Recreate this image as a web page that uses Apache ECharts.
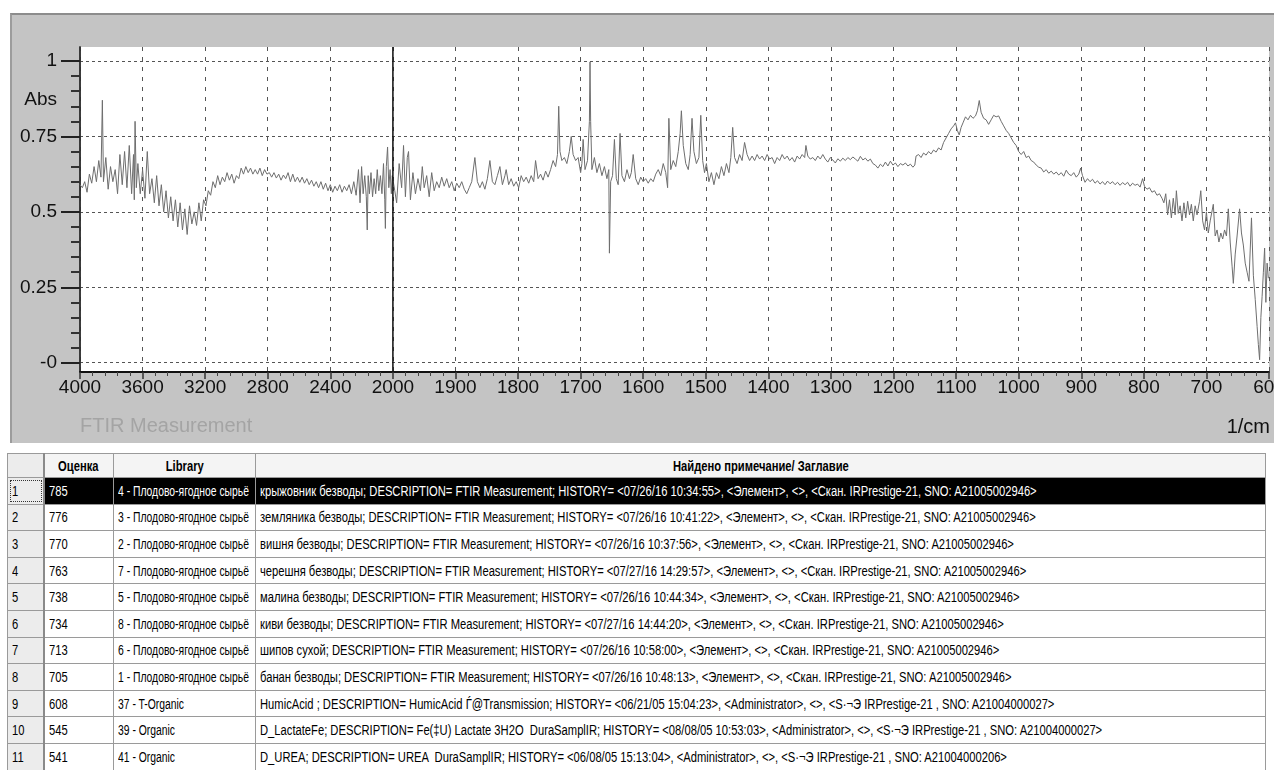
<!DOCTYPE html>
<html><head><meta charset="utf-8">
<script src="https://cdn.jsdelivr.net/npm/echarts@6/dist/echarts.min.js"></script>
<style>
html,body{margin:0;padding:0;background:#fff;width:1274px;height:770px;overflow:hidden;position:relative;}
#panel{position:absolute;left:10px;top:13px;width:1264px;height:430px;background:#c4c4c4;border-top:2px solid #8c8c8c;border-left:2px solid #9c9c9c;box-sizing:border-box;}
#chart{position:absolute;left:0;top:0;width:1300px;height:445px;}
#tbl{position:absolute;left:7px;top:453px;width:1259px;border-collapse:collapse;table-layout:fixed;
 font-family:'Liberation Sans',Arial,sans-serif;font-size:14px;color:#000;}
#tbl th,#tbl td{border:1px solid #9a9a9a;padding:0 4px;white-space:pre;overflow:hidden;text-align:left;}
#tbl th{height:23px;background:#f4f4f4;font-weight:bold;text-align:center;}
#tbl td{height:25.6px;}
#tbl td.idx,#tbl th.idx{background:#ececec;padding-left:4px;border-right:2px solid #8a8a8a;}
#tbl span.n{display:inline-block;transform:scaleX(0.8);transform-origin:0 50%;}
#tbl td.lib span.n{transform:scaleX(0.74);}
#tbl th span.n{transform-origin:50% 50%;}
#tbl tr.sel td.v{background:#000;color:#fff;}
#tbl tr.sel td.idx{outline:1px dotted #333;outline-offset:-3px;}
</style>
</head><body>
<div id="panel"></div>
<div id="chart"></div>
<table id="tbl"></table>
<script>
// ---------- data ----------
const xTickLabels = ['4000','3600','3200','2800','2400','2000','1900','1800','1700','1600','1500','1400','1300','1200','1100','1000','900','800','700','600'];
const yTickLabels = ['-0','0.25','0.5','0.75','1'];
const cursorWavenumber = 2000;

// spectrum: [wavenumber (1/cm), absorbance]
const spectrumHigh = [[4000,0.590],[3985,0.580],[3970,0.600],[3955,0.565],[3940,0.625],[3925,0.595],[3910,0.650],[3895,0.600],[3880,0.670],[3866,0.615],[3857,0.870],[3850,0.600],[3835,0.680],[3820,0.575],[3805,0.650],[3790,0.600],[3775,0.640],[3760,0.560],[3745,0.690],[3730,0.590],[3715,0.700],[3700,0.580],[3685,0.720],[3670,0.560],[3658,0.690],[3653,0.540],[3648,0.800],[3640,0.580],[3630,0.660],[3615,0.560],[3600,0.640],[3585,0.545],[3570,0.700],[3555,0.560],[3540,0.610],[3525,0.530],[3510,0.620],[3495,0.520],[3480,0.590],[3465,0.500],[3450,0.570],[3435,0.480],[3420,0.550],[3405,0.470],[3390,0.540],[3375,0.450],[3360,0.530],[3345,0.440],[3330,0.510],[3315,0.425],[3300,0.520],[3285,0.460],[3270,0.500],[3255,0.455],[3240,0.530],[3225,0.470],[3210,0.540],[3195,0.520],[3180,0.570],[3165,0.555],[3150,0.600],[3135,0.580],[3120,0.620],[3105,0.590],[3090,0.615],[3075,0.600],[3060,0.630],[3045,0.605],[3030,0.625],[3015,0.595],[3000,0.620],[2985,0.610],[2970,0.645],[2955,0.625],[2940,0.650],[2925,0.630],[2910,0.645],[2895,0.625],[2880,0.640],[2865,0.625],[2850,0.645],[2835,0.620],[2820,0.640],[2805,0.625],[2790,0.630],[2775,0.615],[2760,0.630],[2745,0.612],[2730,0.625],[2715,0.605],[2700,0.622],[2685,0.610],[2670,0.630],[2655,0.600],[2640,0.625],[2625,0.600],[2610,0.615],[2595,0.598],[2580,0.615],[2565,0.595],[2550,0.610],[2535,0.590],[2520,0.605],[2505,0.585],[2490,0.600],[2475,0.580],[2460,0.600],[2445,0.575],[2430,0.595],[2415,0.570],[2400,0.590],[2385,0.565],[2370,0.585],[2355,0.570],[2340,0.590],[2325,0.565],[2310,0.585],[2295,0.570],[2280,0.590],[2265,0.560],[2250,0.600],[2235,0.555],[2220,0.640],[2210,0.530],[2200,0.650],[2190,0.560],[2180,0.620],[2170,0.550],[2164,0.440],[2158,0.620],[2150,0.560],[2140,0.630],[2130,0.550],[2120,0.610],[2110,0.560],[2100,0.640],[2090,0.570],[2080,0.620],[2070,0.560],[2060,0.660],[2052,0.540],[2048,0.445],[2042,0.650],[2034,0.715],[2026,0.580],[2018,0.640],[2010,0.560],[2004,0.620]];

const spectrumMid = [[1997,0.57],[1994,0.53],[1990,0.66],[1986,0.58],[1983,0.72],[1980,0.55],[1977,0.68],[1975,0.70],[1972,0.54],[1968,0.63],[1964,0.56],[1960,0.61],[1956,0.57],[1953,0.65],[1950,0.58],[1946,0.62],[1942,0.55],[1938,0.63],[1934,0.57],[1930,0.60],[1926,0.58],[1922,0.615],[1918,0.585],[1914,0.61],[1910,0.58],[1906,0.60],[1902,0.57],[1898,0.595],[1894,0.58],[1890,0.60],[1886,0.575],[1882,0.56],[1878,0.58],[1874,0.60],[1869,0.68],[1865,0.60],[1861,0.58],[1857,0.60],[1853,0.575],[1849,0.61],[1845,0.67],[1841,0.60],[1837,0.59],[1833,0.62],[1829,0.65],[1825,0.59],[1821,0.62],[1819,0.64],[1815,0.59],[1811,0.61],[1807,0.585],[1803,0.60],[1799,0.58],[1795,0.62],[1791,0.60],[1787,0.615],[1783,0.595],[1779,0.62],[1775,0.60],[1772,0.67],[1768,0.61],[1764,0.625],[1760,0.605],[1756,0.635],[1752,0.615],[1748,0.64],[1744,0.67],[1740,0.65],[1737,0.69],[1735,0.85],[1733,0.70],[1730,0.67],[1726,0.68],[1722,0.66],[1718,0.70],[1715,0.75],[1712,0.69],[1708,0.67],[1704,0.68],[1700,0.63],[1698,0.66],[1696,0.74],[1693,0.64],[1689,0.67],[1686,0.80],[1685,0.997],[1684,0.80],[1682,0.64],[1678,0.68],[1674,0.63],[1670,0.66],[1666,0.62],[1662,0.65],[1658,0.61],[1655,0.64],[1654,0.363],[1652,0.60],[1649,0.62],[1646,0.74],[1643,0.61],[1640,0.59],[1637,0.76],[1634,0.62],[1630,0.60],[1626,0.64],[1622,0.61],[1619,0.63],[1616,0.69],[1612,0.61],[1608,0.59],[1604,0.615],[1600,0.60],[1596,0.61],[1592,0.595],[1588,0.61],[1584,0.60],[1580,0.625],[1576,0.64],[1572,0.62],[1568,0.66],[1564,0.63],[1561,0.58],[1559,0.81],[1556,0.64],[1552,0.67],[1548,0.65],[1544,0.70],[1541,0.76],[1539,0.835],[1536,0.72],[1532,0.66],[1528,0.64],[1525,0.69],[1522,0.81],[1519,0.70],[1515,0.66],[1511,0.68],[1508,0.82],[1505,0.67],[1502,0.63],[1499,0.66],[1495,0.60],[1491,0.63],[1487,0.59],[1483,0.63],[1479,0.61],[1475,0.65],[1471,0.62],[1467,0.66],[1463,0.63],[1460,0.68],[1457,0.78],[1454,0.68],[1450,0.66],[1446,0.69],[1442,0.67],[1438,0.73],[1434,0.69],[1430,0.67],[1426,0.685],[1422,0.67],[1418,0.69],[1414,0.675],[1410,0.685],[1406,0.67],[1402,0.69],[1398,0.675],[1394,0.68],[1390,0.66],[1386,0.68],[1382,0.67],[1378,0.69],[1374,0.675],[1370,0.685],[1366,0.67],[1362,0.68],[1358,0.665],[1354,0.685],[1350,0.675],[1346,0.69],[1342,0.68],[1340,0.72],[1337,0.685],[1333,0.675],[1329,0.68],[1325,0.67],[1321,0.685],[1317,0.675],[1313,0.69],[1309,0.675],[1305,0.665],[1301,0.68]];

const spectrumLow = [[1297,0.672],[1293,0.662],[1289,0.676],[1285,0.668],[1281,0.678],[1277,0.67],[1273,0.68],[1269,0.673],[1265,0.682],[1261,0.675],[1257,0.668],[1253,0.684],[1249,0.672],[1245,0.678],[1241,0.668],[1237,0.675],[1233,0.66],[1229,0.655],[1225,0.645],[1221,0.658],[1217,0.65],[1213,0.665],[1209,0.652],[1205,0.668],[1201,0.655],[1197,0.662],[1193,0.65],[1189,0.66],[1185,0.655],[1181,0.662],[1177,0.652],[1173,0.658],[1169,0.648],[1166,0.655],[1164,0.685],[1160,0.69],[1156,0.68],[1152,0.695],[1148,0.688],[1144,0.70],[1140,0.692],[1136,0.705],[1132,0.698],[1128,0.712],[1124,0.705],[1120,0.73],[1116,0.745],[1112,0.76],[1108,0.775],[1104,0.785],[1101,0.795],[1098,0.77],[1095,0.755],[1092,0.78],[1089,0.795],[1085,0.815],[1081,0.805],[1077,0.82],[1073,0.81],[1069,0.818],[1066,0.835],[1063,0.869],[1060,0.83],[1056,0.81],[1052,0.805],[1048,0.79],[1044,0.805],[1040,0.82],[1036,0.815],[1032,0.818],[1028,0.80],[1024,0.785],[1020,0.77],[1016,0.76],[1012,0.745],[1008,0.73],[1004,0.72],[1000,0.70],[996,0.69],[992,0.70],[988,0.68],[984,0.685],[980,0.67],[976,0.665],[972,0.655],[968,0.648],[964,0.645],[960,0.632],[956,0.64],[952,0.628],[948,0.635],[944,0.625],[940,0.632],[936,0.622],[932,0.63],[928,0.618],[924,0.638],[920,0.625],[916,0.62],[912,0.63],[908,0.615],[904,0.625],[901,0.645],[898,0.62],[894,0.598],[890,0.61],[886,0.60],[882,0.608],[878,0.595],[874,0.603],[870,0.592],[866,0.60],[862,0.59],[858,0.602],[854,0.593],[850,0.60],[846,0.59],[842,0.598],[838,0.588],[834,0.597],[830,0.59],[826,0.598],[822,0.585],[818,0.595],[814,0.588],[810,0.592],[806,0.582],[802,0.61],[799,0.585],[795,0.575],[791,0.58],[787,0.565],[783,0.57],[779,0.555],[775,0.56],[771,0.545],[768,0.53],[765,0.56],[762,0.49],[759,0.54],[756,0.48],[753,0.545],[750,0.49],[748,0.57],[745,0.495],[742,0.52],[739,0.47],[736,0.53],[733,0.48],[730,0.535],[727,0.49],[724,0.525],[721,0.47],[718,0.52],[715,0.49],[711,0.535],[709,0.57],[706,0.47],[703,0.44],[700,0.50],[697,0.43],[694,0.47],[689,0.525],[686,0.42],[683,0.44],[680,0.40],[677,0.43],[674,0.41],[671,0.44],[668,0.42],[665,0.51],[662,0.40],[659,0.32],[657,0.263],[654,0.36],[651,0.42],[647,0.51],[644,0.43],[641,0.39],[638,0.33],[635,0.30],[632,0.27],[628,0.48],[625,0.29],[622,0.21],[619,0.12],[617,0.06],[615,0.01],[613,0.15],[611,0.22],[609,0.30],[607,0.38],[605,0.20],[603,0.33],[601,0.28]];

// table
const tableHeaders = ['', 'Оценка', 'Library', 'Найдено примечание/ Заглавие'];
const rowScores = [785,776,770,763,738,734,713,705,608,545,541];
const rowLibraries = ['4 - Плодово-ягодное сырьё','3 - Плодово-ягодное сырьё','2 - Плодово-ягодное сырьё','7 - Плодово-ягодное сырьё','5 - Плодово-ягодное сырьё','8 - Плодово-ягодное сырьё','6 - Плодово-ягодное сырьё','1 - Плодово-ягодное сырьё','37 - T-Organic','39 - Organic','41 - Organic'];
const rowNotes = [
 'крыжовник безводы; DESCRIPTION= FTIR Measurement; HISTORY= <07/26/16 10:34:55>, <Элемент>, <>, <Скан. IRPrestige-21, SNO: A21005002946>',
 'земляника безводы; DESCRIPTION= FTIR Measurement; HISTORY= <07/26/16 10:41:22>, <Элемент>, <>, <Скан. IRPrestige-21, SNO: A21005002946>',
 'вишня безводы; DESCRIPTION= FTIR Measurement; HISTORY= <07/26/16 10:37:56>, <Элемент>, <>, <Скан. IRPrestige-21, SNO: A21005002946>',
 'черешня безводы; DESCRIPTION= FTIR Measurement; HISTORY= <07/27/16 14:29:57>, <Элемент>, <>, <Скан. IRPrestige-21, SNO: A21005002946>',
 'малина безводы; DESCRIPTION= FTIR Measurement; HISTORY= <07/26/16 10:44:34>, <Элемент>, <>, <Скан. IRPrestige-21, SNO: A21005002946>',
 'киви безводы; DESCRIPTION= FTIR Measurement; HISTORY= <07/27/16 14:44:20>, <Элемент>, <>, <Скан. IRPrestige-21, SNO: A21005002946>',
 'шипов сухой; DESCRIPTION= FTIR Measurement; HISTORY= <07/26/16 10:58:00>, <Элемент>, <>, <Скан. IRPrestige-21, SNO: A21005002946>',
 'банан безводы; DESCRIPTION= FTIR Measurement; HISTORY= <07/26/16 10:48:13>, <Элемент>, <>, <Скан. IRPrestige-21, SNO: A21005002946>',
 'HumicAcid ; DESCRIPTION= HumicAcid Ѓ@Transmission; HISTORY= <06/21/05 15:04:23>, <Administrator>, <>, <S·¬Э IRPrestige-21 , SNO: A21004000027>',
 'D_LactateFe; DESCRIPTION= Fe(‡U) Lactate 3H2O  DuraSamplIR; HISTORY= <08/08/05 10:53:03>, <Administrator>, <>, <S·¬Э IRPrestige-21 , SNO: A21004000027>',
 'D_UREA; DESCRIPTION= UREA  DuraSamplIR; HISTORY= <06/08/05 15:13:04>, <Administrator>, <>, <S·¬Э IRPrestige-21 , SNO: A21004000206>'
];

// ---------- broken wavenumber axis: 4000-2000 at 400/div, 2000-600 at 100/div ----------
function toAxis(w){ return w >= 2000 ? (4000 - w) / 400 : 5 + (2000 - w) / 100; }
const FONT = "'Liberation Sans',Arial,sans-serif";
const CHART_W = 1300; // wider than the page so the last tick label is cut at the page edge
const spectrum = spectrumHigh.concat(spectrumMid, spectrumLow).map(p => [toAxis(p[0]), p[1]]);
const xMax = xTickLabels.length - 1;

const chart = echarts.init(document.getElementById('chart'), null, {renderer: 'canvas'});
chart.setOption({
  animation: false,
  grid: [
    {left: 80, top: 47, width: 1189, height: 325, show: true, backgroundColor: '#fff', borderWidth: 0},
    {left: 80, top: 61, width: 1189, height: 301.7, show: false}
  ],
  xAxis: [
    {gridIndex: 0, type: 'value', min: 0, max: xMax, interval: 1,
     axisLine: {show: true, lineStyle: {color: '#efefef', width: 1}},
     axisTick: {show: true, length: 7, lineStyle: {color: '#333', width: 1.5}},
     minorTick: {show: true, splitNumber: 5, length: 4, lineStyle: {color: '#444', width: 1}},
     axisLabel: {show: true, margin: 6, fontSize: 19, fontFamily: FONT, color: '#111',
       showMinLabel: true, showMaxLabel: true,
       formatter: v => xTickLabels[Math.round(v)]},
     splitLine: {show: true, lineStyle: {color: '#555', width: 1, type: [4, 6]}}},
    {gridIndex: 1, type: 'value', min: 0, max: xMax, show: false},
    {gridIndex: 0, type: 'value', min: 0, max: xMax, position: 'top',
     axisLine: {show: true, lineStyle: {color: '#111', width: 2}},
     axisTick: {show: false}, axisLabel: {show: false}, splitLine: {show: false}}
  ],
  yAxis: [
    {gridIndex: 0, type: 'value', min: 0, max: 1,
     axisLine: {show: true, lineStyle: {color: '#222', width: 1.5}},
     axisTick: {show: false}, axisLabel: {show: false}, splitLine: {show: false}},
    {gridIndex: 1, type: 'value', min: 0, max: 1, interval: 0.25,
     axisLine: {show: false},
     axisTick: {show: true, length: 19, lineStyle: {color: '#222', width: 2}},
     minorTick: {show: true, splitNumber: 5, length: 9, lineStyle: {color: '#333', width: 2}},
     axisLabel: {show: true, margin: 23, fontSize: 19, fontFamily: FONT, color: '#111',
       formatter: v => yTickLabels[Math.round(v * 4)]},
     splitLine: {show: true, lineStyle: {color: '#555', width: 1, type: [3, 3]}}},
    {gridIndex: 0, type: 'value', min: 0, max: 1, position: 'right',
     axisLine: {show: true, lineStyle: {color: '#333', width: 1.5}},
     axisTick: {show: false}, axisLabel: {show: false}, splitLine: {show: false}}
  ],
  graphic: [
    {type: 'text', right: CHART_W - 57, top: 90, style: {text: 'Abs', font: "19px " + FONT, fill: '#111'}},
    {type: 'text', left: 80, top: 416, style: {text: 'FTIR Measurement', font: "20px " + FONT, fill: '#a4a4a4'}},
    {type: 'text', right: CHART_W - 1270, top: 417, style: {text: '1/cm', font: "20px " + FONT, fill: '#111'}}
  ],
  series: [
    {type: 'line', xAxisIndex: 1, yAxisIndex: 1, data: spectrum, showSymbol: false, symbol: 'none',
     lineStyle: {color: '#6e6e6e', width: 1}, silent: true, z: 3},
    {type: 'line', xAxisIndex: 0, yAxisIndex: 0, showSymbol: false, symbol: 'none',
     data: [[toAxis(cursorWavenumber), 0], [toAxis(cursorWavenumber), 1]],
     lineStyle: {color: '#111', width: 1.5}, silent: true, z: 4}
  ]
});

// ---------- table ----------
(function(){
  const t = document.getElementById('tbl');
  const colW = [36, 70, 142, null];
  const esc = s => String(s).replace(/&/g, '&amp;').replace(/</g, '&lt;').replace(/>/g, '&gt;');
  const sp = s => '<span class="n">' + esc(s) + '</span>';
  let html = '<colgroup>' + colW.map(w => w ? '<col style="width:' + w + 'px">' : '<col>').join('') + '</colgroup>';
  html += '<tr>' + tableHeaders.map((h, i) => '<th' + (i === 0 ? ' class="idx"' : '') + '>' + (h ? sp(h) : '') + '</th>').join('') + '</tr>';
  rowScores.forEach((s, i) => {
    html += '<tr' + (i === 0 ? ' class="sel"' : '') + '><td class="idx">' + sp(i + 1) + '</td><td class="v">' + sp(s) +
      '</td><td class="v lib">' + sp(rowLibraries[i]) + '</td><td class="v">' + sp(rowNotes[i]) + '</td></tr>';
  });
  t.innerHTML = html;
})();
</script>
</body></html>
